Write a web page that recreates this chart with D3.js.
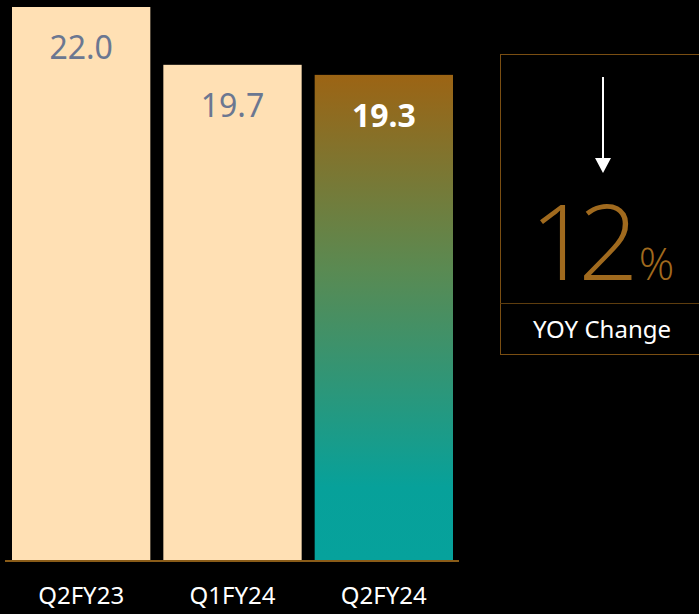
<!DOCTYPE html>
<html>
<head>
<meta charset="utf-8">
<script src="https://cdn.jsdelivr.net/npm/d3@7"></script>
<style>
  html, body { margin: 0; padding: 0; background: #000; }
  svg { display: block; }
</style>
</head>
<body>
<div id="chart"></div>
<script>
// datos del gráfico
const categorias = ["Q2FY23", "Q1FY24", "Q2FY24"];
const valores = [22.0, 19.7, 19.3];
const cambioYoY = "12";
const etiquetaCambio = "YOY Change";

const W = 699, H = 614;
const fuente = "'Noto Sans', 'Open Sans', sans-serif";

const svg = d3.select("#chart").append("svg")
  .attr("width", W)
  .attr("height", H);

const defs = svg.append("defs");
const grad = defs.append("linearGradient")
  .attr("id", "gradBarra")
  .attr("x1", 0).attr("y1", 0).attr("x2", 0).attr("y2", 1);
grad.append("stop").attr("offset", "0%").attr("stop-color", "#9c6414");
grad.append("stop").attr("offset", "40%").attr("stop-color", "#5a8a52");
grad.append("stop").attr("offset", "85%").attr("stop-color", "#07a19a");
grad.append("stop").attr("offset", "100%").attr("stop-color", "#06a29c");

const x = d3.scaleBand()
  .domain(categorias)
  .range([12, 453])
  .paddingInner(0.086)
  .paddingOuter(0);

const y = d3.scaleLinear()
  .domain([0, 22])
  .range([560, 7]);

svg.selectAll("rect.barra")
  .data(valores)
  .enter()
  .append("rect")
  .attr("class", "barra")
  .attr("x", (d, i) => x(categorias[i]))
  .attr("y", d => y(d))
  .attr("width", x.bandwidth())
  .attr("height", d => y(0) - y(d))
  .attr("fill", (d, i) => i === valores.length - 1 ? "url(#gradBarra)" : "#ffe0b4");

svg.selectAll("text.valor")
  .data(valores)
  .enter()
  .append("text")
  .attr("class", "valor")
  .attr("x", (d, i) => x(categorias[i]) + x.bandwidth() / 2)
  .attr("y", d => y(d) + 52)
  .attr("text-anchor", "middle")
  .attr("font-family", fuente)
  .attr("font-size", 32)
  .attr("font-weight", (d, i) => i === valores.length - 1 ? 700 : 400)
  .attr("fill", (d, i) => i === valores.length - 1 ? "#ffffff" : "#6b7791")
  .text(d => d.toFixed(1));

// línea base
svg.append("line")
  .attr("x1", 5).attr("x2", 459)
  .attr("y1", 561).attr("y2", 561)
  .attr("stroke", "#8a5c18")
  .attr("stroke-width", 2);

const ejeX = d3.axisBottom(x).tickSize(0).tickPadding(0);
const gEje = svg.append("g")
  .attr("transform", "translate(0,587)")
  .call(ejeX);
gEje.select(".domain").remove();
gEje.selectAll("text")
  .attr("font-family", fuente)
  .attr("font-size", 24)
  .attr("fill", "#ffffff");

// recuadro del cambio interanual
const caja = svg.append("g");
caja.append("rect")
  .attr("x", 500.5).attr("y", 54.5)
  .attr("width", 210).attr("height", 300)
  .attr("fill", "none")
  .attr("stroke", "#7a4e12")
  .attr("stroke-width", 1);
caja.append("line")
  .attr("x1", 500).attr("x2", 699)
  .attr("y1", 303.5).attr("y2", 303.5)
  .attr("stroke", "#5e3d0e")
  .attr("stroke-width", 1);

caja.append("line")
  .attr("x1", 603).attr("x2", 603)
  .attr("y1", 77).attr("y2", 160)
  .attr("stroke", "#ffffff")
  .attr("stroke-width", 2);
caja.append("path")
  .attr("d", "M595,158 L611,158 L603,173 Z")
  .attr("fill", "#ffffff");

const numero = caja.append("text")
  .attr("x", 602)
  .attr("y", 280)
  .attr("text-anchor", "middle")
  .attr("font-family", "'Open Sans', 'Noto Sans', sans-serif")
  .attr("font-weight", 300)
  .attr("fill", "#a06a1e");
numero.append("tspan")
  .attr("font-size", 106)
  .attr("letter-spacing", -12)
  .text(cambioYoY);
numero.append("tspan")
  .attr("font-size", 44)
  .attr("dx", 12)
  .text("%");

caja.append("text")
  .attr("x", 602)
  .attr("y", 338)
  .attr("text-anchor", "middle")
  .attr("font-family", fuente)
  .attr("font-size", 24)
  .attr("fill", "#ffffff")
  .text(etiquetaCambio);
</script>
</body>
</html>
